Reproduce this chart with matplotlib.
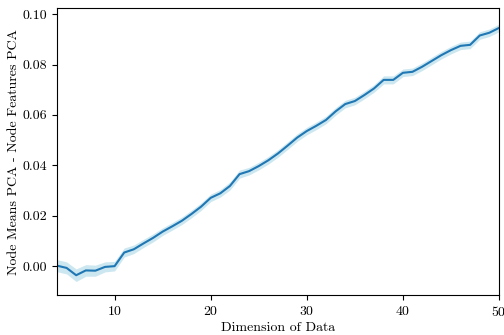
import numpy as np
import matplotlib
matplotlib.use('Agg')
from matplotlib import pyplot

# Font setup: Computer Modern look
pyplot.rcParams['font.family'] = 'cmr10'
pyplot.rcParams['mathtext.fontset'] = 'cm'
pyplot.rcParams['axes.formatter.use_mathtext'] = True
pyplot.rcParams['font.size'] = 10

# Dimension of data (x) and mean difference (y)
dims = list(range(4, 51))
diff = [0.0002, -0.0007, -0.0036, -0.0017, -0.0018, -0.0003, 0.0000, 0.0054,
        0.0067, 0.0090, 0.0112, 0.0137, 0.0158, 0.0180, 0.0207, 0.0236,
        0.0271, 0.0289, 0.0318, 0.0365, 0.0377, 0.0397, 0.0420, 0.0447,
        0.0478, 0.0510, 0.0536, 0.0557, 0.0580, 0.0614, 0.0643, 0.0655,
        0.0679, 0.0705, 0.0739, 0.0739, 0.0767, 0.0771, 0.0791, 0.0814,
        0.0837, 0.0857, 0.0874, 0.0878, 0.0915, 0.0926, 0.0945, 0.0955]
diff = diff[:len(dims)]
# half width of the shaded band
spread = [0.0024, 0.0024, 0.0025, 0.0023, 0.0022, 0.0020, 0.0019, 0.0018,
          0.0017, 0.0016, 0.0016, 0.0015, 0.0015, 0.0015, 0.0015, 0.0015,
          0.0015, 0.0015, 0.0016, 0.0016, 0.0015, 0.0015, 0.0015, 0.0015,
          0.0015, 0.0015, 0.0015, 0.0015, 0.0015, 0.0015, 0.0015, 0.0015,
          0.0015, 0.0015, 0.0016, 0.0016, 0.0015, 0.0015, 0.0015, 0.0015,
          0.0015, 0.0015, 0.0015, 0.0015, 0.0015, 0.0015, 0.0015]

d = np.array(diff)
s = np.array(spread)

f1 = pyplot.figure(figsize=(5.04, 3.35), dpi=100)
ax0 = f1.add_axes([0.113, 0.119, 0.877, 0.857])

ax0.fill_between(dims, d - s, d + s, color='#add8e6', alpha=0.6, linewidth=0)
ax0.plot(dims, d, color='#1f77b4', linewidth=1.5)

# Tidy up the plot ranges, and label
ax0.set_xlim([4, 50])
ax0.set_ylim([-0.0115, 0.1024])
ax0.set_xticks([10, 20, 30, 40, 50])
ax0.set_yticks([0.0, 0.02, 0.04, 0.06, 0.08, 0.10])
ax0.set_yticklabels(['0.00', '0.02', '0.04', '0.06', '0.08', '0.10'])
ax0.set_xlabel('Dimension of Data', labelpad=2)
ax0.set_ylabel('Node Means PCA - Node Features PCA', labelpad=2)

pyplot.savefig('out.png', dpi=100)
